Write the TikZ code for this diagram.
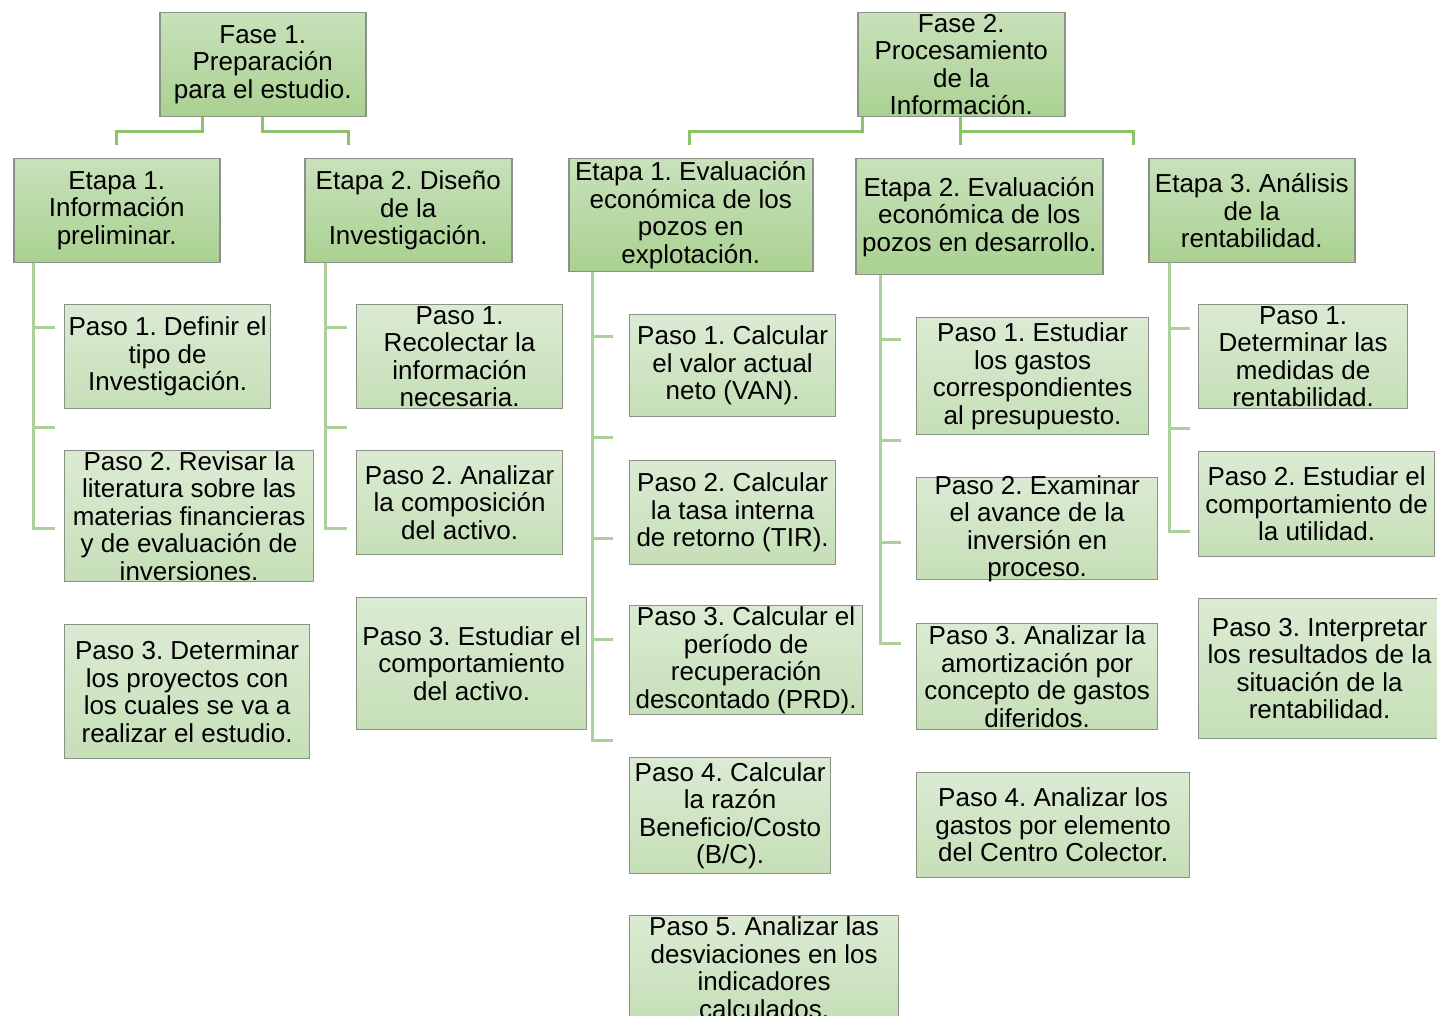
\documentclass[tikz,border=0pt]{standalone}
\usepackage{fontspec}
\setmainfont{Liberation Sans}
\frenchspacing
\usetikzlibrary{positioning}
\definecolor{verdea}{RGB}{200,225,187}
\definecolor{verdeb}{RGB}{170,209,145}
\definecolor{verdec}{RGB}{219,235,211}
\definecolor{verded}{RGB}{197,223,183}
\definecolor{borde}{RGB}{138,146,136}
\definecolor{lineaa}{RGB}{140,194,108}
\definecolor{lineab}{RGB}{172,209,152}
\tikzset{
	cabeza/.style={draw=borde,line width=1.5pt,top color=verdea,bottom color=verdeb},
	paso/.style={draw=borde,line width=1.2pt,top color=verdec,bottom color=verded},
	texto/.style={align=center,font=\fontsize{26}{27.5}\selectfont,inner sep=0pt},
	ramal/.style={draw=lineaa,line width=3pt},
	rama/.style={draw=lineab,line width=3pt}}
\newcommand{\caja}[7]{\node[#1,minimum width=#5pt,minimum height=#6pt,anchor=north west,inner sep=0pt] (#2) at (#3,#4) {};
	\node[texto] at (#2.center) {#7};}

\begin{document}
\begin{tikzpicture}[x=1pt,y=-1pt]
	\useasboundingbox (0,0) rectangle (1437,1016);
	\clip (0,0) rectangle (1437,1016);

	\caja{cabeza}{fase1}{159}{12}{206}{104}{Fase 1.\\Preparación\\para el estudio.}
	\caja{cabeza}{fase2}{857}{12}{207}{104}{Fase 2.\\Procesamiento\\de la\\Información.}

	\caja{cabeza}{e11}{13}{158}{206}{104}{Etapa 1.\\Información\\preliminar.}
	\caja{cabeza}{e12}{304}{158}{207}{104}{Etapa 2. Diseño\\de la\\Investigación.}
	\caja{cabeza}{e21}{568}{158}{244}{113}{Etapa 1. Evaluación\\económica de los\\pozos en\\explotación.}
	\caja{cabeza}{e22}{855}{158}{247}{116}{Etapa 2. Evaluación\\económica de los\\pozos en desarrollo.}
	\caja{cabeza}{e23}{1148}{158}{206}{104}{Etapa 3. Análisis\\de la\\rentabilidad.}

	\caja{paso}{p111}{64}{304}{206}{104}{Paso 1. Definir el\\tipo de\\Investigación.}
	\caja{paso}{p112}{64}{450}{249}{131}{Paso 2. Revisar la\\literatura sobre las\\materias financieras\\y de evaluación de\\inversiones.}
	\caja{paso}{p113}{64}{624}{245}{134}{Paso 3. Determinar\\los proyectos con\\los cuales se va a\\realizar el estudio.}

	\caja{paso}{p121}{356}{304}{206}{104}{Paso 1.\\Recolectar la\\información\\necesaria.}
	\caja{paso}{p122}{356}{450}{206}{104}{Paso 2. Analizar\\la composición\\del activo.}
	\caja{paso}{p123}{356}{597}{230}{132}{Paso 3. Estudiar el\\comportamiento\\del activo.}

	\caja{paso}{p211}{629}{314}{206}{102}{Paso 1. Calcular\\el valor actual\\neto (VAN).}
	\caja{paso}{p212}{629}{460}{206}{104}{Paso 2. Calcular\\la tasa interna\\de retorno (TIR).}
	\caja{paso}{p213}{629}{605}{233}{109}{Paso 3. Calcular el\\período de\\recuperación\\descontado (PRD).}
	\caja{paso}{p214}{629}{757}{201}{116}{Paso 4. Calcular\\la razón\\Beneficio/Costo\\(B/C).}
	\caja{paso}{p215}{629}{915}{269}{104}{Paso 5. Analizar las\\desviaciones en los\\indicadores\\calculados.}

	\caja{paso}{p221}{916}{317}{232}{117}{Paso 1. Estudiar\\los gastos\\correspondientes\\al presupuesto.}
	\caja{paso}{p222}{916}{477}{241}{102}{Paso 2. Examinar\\el avance de la\\inversión en\\proceso.}
	\caja{paso}{p223}{916}{623}{241}{106}{Paso 3. Analizar la\\amortización por\\concepto de gastos\\diferidos.}
	\caja{paso}{p224}{916}{772}{273}{105}{Paso 4. Analizar los\\gastos por elemento\\del Centro Colector.}

	\caja{paso}{p231}{1198}{304}{209}{104}{Paso 1.\\Determinar las\\medidas de\\rentabilidad.}
	\caja{paso}{p232}{1198}{451}{236}{105}{Paso 2. Estudiar el\\comportamiento de\\la utilidad.}
	\caja{paso}{p233}{1198}{598}{242}{140}{Paso 3. Interpretar\\los resultados de la\\situación de la\\rentabilidad.}

	\coordinate (a11) at (116,145);
	\coordinate (a12) at (348,145);
	\coordinate (a21) at (689,145);
	\coordinate (a22) at (960,145);
	\coordinate (a23) at (1133,145);
	\draw[ramal] ([xshift=-60pt]fase1.south) -- ++(0,14) -| (a11);
	\draw[ramal] (fase1.south) -- ++(0,14) -| (a12);
	\draw[ramal] ([xshift=5pt]fase2.south west) -- ++(0,14) -| (a21);
	\draw[ramal] (fase2.south -| a22) -- (a22);
	\draw[ramal] (fase2.south -| a22) ++(0,14) -| (a23);

	\coordinate (b11) at (33,528);
	\coordinate (b12) at (325,528);
	\coordinate (b21) at (592,740);
	\coordinate (b22) at (880,643);
	\coordinate (b23) at (1169,531);
	\draw[rama] (e11.south -| b11) -- (b11) -- ++(22,0);
	\draw[rama] (e12.south -| b12) -- (b12) -- ++(22,0);
	\draw[rama] (e21.south -| b21) -- (b21) -- ++(21,0);
	\draw[rama] (e22.south -| b22) -- (b22) -- ++(21,0);
	\draw[rama] (e23.south -| b23) -- (b23) -- ++(21,0);
	\foreach \y in {327,427} \draw[rama] (b11 |- 0,\y) -- ++(22,0);
	\foreach \y in {327,427} \draw[rama] (b12 |- 0,\y) -- ++(22,0);
	\foreach \y in {336,437,538,639} \draw[rama] (b21 |- 0,\y) -- ++(21,0);
	\foreach \y in {339,440,542} \draw[rama] (b22 |- 0,\y) -- ++(21,0);
	\foreach \y in {328,428} \draw[rama] (b23 |- 0,\y) -- ++(21,0);
\end{tikzpicture}
\end{document}
